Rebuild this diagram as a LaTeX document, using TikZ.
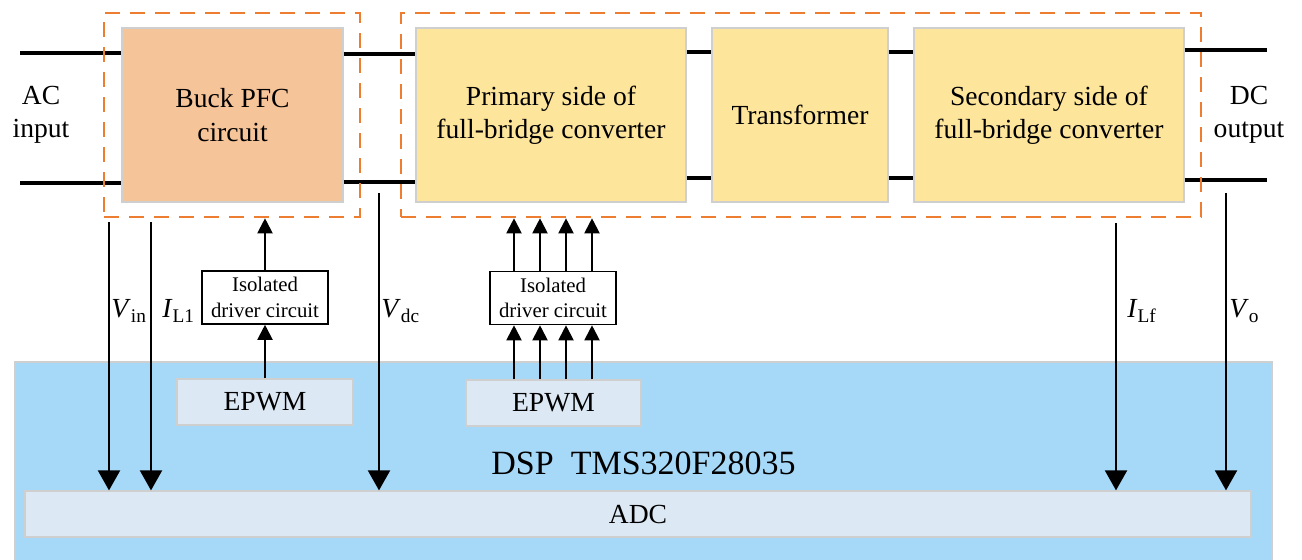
\documentclass[tikz,border=0pt]{standalone}
\usepackage{fontspec}
\setmainfont{Liberation Serif}
\usetikzlibrary{arrows.meta,fit,calc}

\definecolor{pfcorange}{HTML}{F6C499}
\definecolor{convyellow}{HTML}{FEE59C}
\definecolor{dspblue}{HTML}{A6D8F7}
\definecolor{unitgray}{HTML}{DCE8F4}
\definecolor{edgegray}{HTML}{CFCFCF}
\definecolor{groupline}{HTML}{ED7D31}

\begin{document}
\begin{tikzpicture}[x=0.5pt,y=-0.5pt,
    every node/.style = {font=\fontsize{13.8}{16.7}\selectfont, align=center, inner sep=0pt},
    size/.style 2 args = {minimum width=#1*0.5pt, minimum height=#2*0.5pt},
    block/.style = {draw=edgegray, line width=0.6pt, fill=#1},
    group/.style = {draw=groupline, line width=1.3pt, dash pattern=on 7.5pt off 5pt},
    driver/.style = {draw, line width=0.8pt, size={126}{53}, font=\fontsize{10.4}{12.8}\selectfont},
    wire/.style = {line width=1.6pt},
    sense/.style = {line width=1pt, -{Triangle[width=11pt,length=10pt]}},
    gate/.style = {line width=1pt, -{Triangle[width=7.5pt,length=7.5pt]}}]
\useasboundingbox (0,0) rectangle (1302,560);

% controller
\node[block=dspblue, size={1257}{202}, font=\fontsize{17}{20}\selectfont] (dsp) at (643.5,463) {DSP~~TMS320F28035};
\node[block=unitgray, size={1226}{46}] (adc) at (638,514) {ADC};
\node[block=unitgray, size={176}{46}] (epwmA) at (265,402) {EPWM};
\node[block=unitgray, size={175}{46}] (epwmB) at (553.5,403) {EPWM};
\node[driver] (isoA) at (265,297.5) {Isolated\\driver circuit};
\node[driver] (isoB) at (553,298) {Isolated\\driver circuit};

% power stage
\node[block=pfcorange, size={221}{174}] (pfc) at (232.5,115) {Buck PFC\\circuit};
\node[block=convyellow, size={270}{174}] (pri) at (551,115) {Primary side of\\full-bridge converter};
\node[block=convyellow, size={176}{174}] (tf) at (800,115) {Transformer};
\node[block=convyellow, size={270}{174}] (sec) at (1049,115) {Secondary side of\\full-bridge converter};
\node (acin) at (41,115) {AC\\input};
\node (dcout) at (1249,115) {DC\\output};

\coordinate (acA) at (20,53);
\coordinate (acB) at (20,183);
\coordinate (dcA) at (1267,50);
\coordinate (dcB) at (1267,180);
\coordinate (upA) at (0,54);
\coordinate (loA) at (0,182);
\coordinate (upB) at (0,52);
\coordinate (loB) at (0,178);
\draw[wire] (acA) -- (acA -| pfc.west);
\draw[wire] (acB) -- (acB -| pfc.west);
\draw[wire] (pfc.east |- upA) -- (pri.west |- upA);
\draw[wire] (pfc.east |- loA) -- (pri.west |- loA);
\foreach \a/\b in {pri/tf, tf/sec} {
    \draw[wire] (\a.east |- upB) -- (\b.west |- upB);
    \draw[wire] (\a.east |- loB) -- (\b.west |- loB);
}
\draw[wire] (sec.east |- dcA) -- (dcA);
\draw[wire] (sec.east |- dcB) -- (dcB);

\node[group, fit={(104,13) (360,217)}] (pfcgrp) {};
\node[group, fit={(401,13) (1201,217)}] (fbgrp) {};

% measurements
\coordinate (vinS) at (109,222);
\coordinate (ilS) at (151,222);
\coordinate (vdcS) at (379,193);
\coordinate (ilfS) at (1116,223);
\coordinate (voS) at (1226,193);
\foreach \s in {vinS,ilS,vdcS,ilfS,voS}
    \draw[sense] (\s) -- (\s |- adc.north);
\node[anchor=base west] (vinL) at (111,318) {\textit{V}\textsubscript{in}};
\node[anchor=base west] (ilL) at (162,318) {\textit{I}\textsubscript{L1}};
\node[anchor=base west] (vdcL) at (381,318) {\textit{V}\textsubscript{dc}};
\node[anchor=base west] (ilfL) at (1127,318) {\textit{I}\textsubscript{Lf}};
\node[anchor=base west] (voL) at (1229,318) {\textit{V}\textsubscript{o}};

% gate signals
\draw[gate] (epwmA.north) -- (isoA.south);
\draw[gate] (isoA.north) -- (isoA.north |- pfcgrp.south);
\foreach \dx in {-39,-13,13,39} {
    \coordinate (gl) at ($(isoB.south)+(\dx,0)$);
    \coordinate (gh) at ($(isoB.north)+(\dx,0)$);
    \draw[gate] (gl |- epwmB.north) -- (gl);
    \draw[gate] (gh) -- (gh |- fbgrp.south);
}
\end{tikzpicture}
\end{document}
